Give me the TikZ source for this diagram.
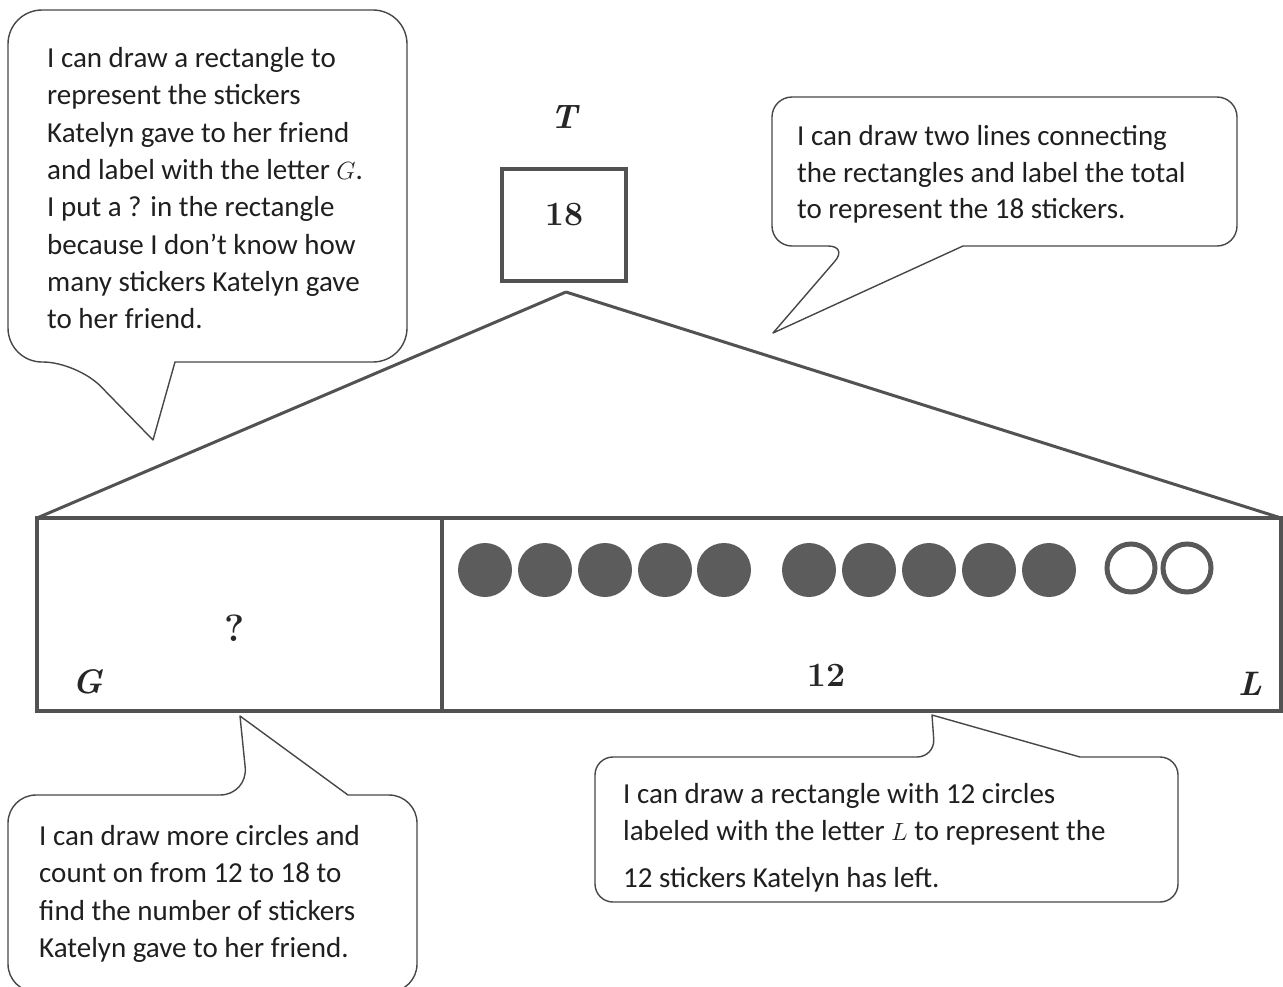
\documentclass[tikz,border=0pt]{standalone}
\usepackage{fontspec}
\newfontfamily\callfont{Carlito}
\begin{document}
\begin{tikzpicture}[x=1pt,y=-1pt,
  bubble/.style={draw=black!72, line width=1.4pt, line join=round},
  bar/.style={draw=black!68, line width=3.8pt},
  link/.style={draw=black!68, line width=3pt},
  ctext/.style={anchor=base west, inner sep=0pt, text=black!88,
    font=\callfont\fontsize{29}{35}\selectfont},
  lab/.style={inner sep=0pt, text=black!85, font=\fontsize{34}{38}\selectfont\bfseries},
  ilab/.style={lab, font=\fontsize{34}{38}\selectfont\bfseries\itshape},
  dot/.style={circle, fill=black!64, minimum size=54pt, inner sep=0pt},
  ring/.style={circle, draw=black!65, line width=5pt, minimum size=48pt, inner sep=0pt}
]
\useasboundingbox (0,0) rectangle (1283,986);
\clip (0,0) rectangle (1283,986);
\fill[white] (0,0) rectangle (1283,986);

% ---- top box T / 18
\node[draw=black!68, line width=3.8pt, minimum width=124pt, minimum height=112pt, inner sep=0pt] (tbox) at (564,225) {};
\node[lab] (n18) at (564,215) {18};
\node[ilab] (tlab) at (564,117) {T};
\coordinate (apex) at (566,292);

% ---- main bar
\coordinate (barTL) at (37,518);
\coordinate (barTR) at (1281,518);
\coordinate (divT) at (442,518);
\coordinate (divB) at (442,711);
\draw[bar] (37,518) rectangle (1281,711);
\draw[bar] (divT) -- (divB);
\draw[link] (apex) -- (barTL);
\draw[link] (apex) -- (barTR);

\node[lab, font=\fontsize{38}{40}\selectfont\bfseries] (q) at (235,628) {?};
\node[ilab] (glab) at (88,682) {G};
\node[lab] (n12) at (826,675) {12};
\node[ilab] (llab) at (1250,684) {L};

% circles
\foreach \i/\x in {1/485,2/545,3/605,4/665,5/724,6/809,7/869,8/929,9/989,10/1049}
  \node[dot] (c\i) at (\x,570) {};
\node[ring] (c11) at (1131,568) {};
\node[ring] (c12) at (1187,568) {};

% ---- top-left callout
\draw[bubble] (175,362) [rounded corners=34pt] -- (407,362) -- (407,10) -- (8,10) -- (8,362) -- (77,362) [sharp corners] -- (153,440) -- cycle;
\node[ctext] (a1) at (47,67) {I can draw a rectangle to};
\node[ctext] (a2) at (47,104) {represent the stickers};
\node[ctext] (a3) at (47,142) {Katelyn gave to her friend};
\node[ctext] (a4) at (47,179) {and label with the letter $G$.};
\node[ctext] (a5) at (47,216) {I put a ? in the rectangle};
\node[ctext] (a6) at (47,254) {because I don’t know how};
\node[ctext] (a7) at (47,291) {many stickers Katelyn gave};
\node[ctext] (a8) at (47,328) {to her friend.};

% ---- top-right callout
\draw[bubble] (963,246) [rounded corners=20pt] -- (1237,246) -- (1237,97) -- (772,97) -- (772,246) -- (848,246) [sharp corners] -- (773,333) -- cycle;
\node[ctext] (b1) at (797,145) {I can draw two lines connecting};
\node[ctext] (b2) at (797,182) {the rectangles and label the total};
\node[ctext] (b3) at (797,218) {to represent the 18 stickers.};

% ---- bottom-left callout
\draw[bubble] (348,795) [rounded corners=28pt] -- (417,795) -- (417,992) -- (8,992) -- (8,795) -- (248,795) [sharp corners] -- (240,716) -- cycle;
\node[ctext] (d1) at (39,845) {I can draw more circles and};
\node[ctext] (d2) at (39,882) {count on from 12 to 18 to};
\node[ctext] (d3) at (39,920) {find the number of stickers};
\node[ctext] (d4) at (39,957) {Katelyn gave to her friend.};

% ---- bottom-right callout
\draw[bubble] (1080,757) [rounded corners=18pt] -- (1178,757) -- (1178,902) -- (595,902) -- (595,757) -- (935,757) [sharp corners] -- (932,715) -- cycle;
\node[ctext] (e1) at (623,803) {I can draw a rectangle with 12 circles};
\node[ctext] (e2) at (623,840) {labeled with the letter $L$ to represent the};
\node[ctext] (e3) at (623,887) {12 stickers Katelyn has left.};
\end{tikzpicture}
\end{document}
